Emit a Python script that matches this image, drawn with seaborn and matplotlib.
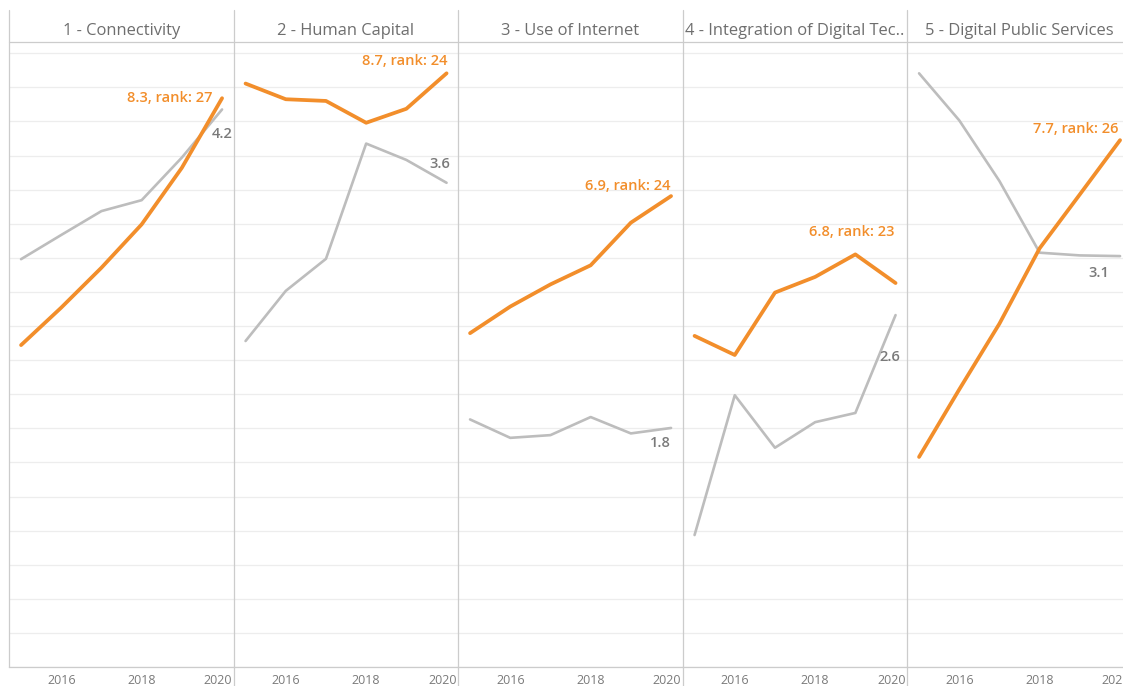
import matplotlib
matplotlib.use("Agg")
import numpy as np
import pandas as pd
import seaborn as sns
import matplotlib.pyplot as plt
from matplotlib.lines import Line2D
import matplotlib.transforms as mtransforms

# ---------------- data ----------------
years = [2015, 2016, 2017, 2018, 2019, 2020]
pillars = ["1 - Connectivity", "2 - Human Capital", "3 - Use of Internet",
           "4 - Integration of Digital Tec..", "5 - Digital Public Services"]

# position on the (hidden) vertical scale
connectivity_main = [9.44, 10.54, 11.71, 12.98, 14.64, 16.68]
connectivity_ref = [11.96, 12.67, 13.37, 13.69, 14.94, 16.35]
human_capital_main = [17.11, 16.65, 16.60, 15.96, 16.37, 17.41]
human_capital_ref = [9.56, 11.03, 11.97, 15.35, 14.87, 14.20]
internet_main = [9.79, 10.57, 11.22, 11.78, 13.03, 13.81]
internet_ref = [7.26, 6.72, 6.80, 7.33, 6.85, 7.01]
integration_main = [9.71, 9.15, 10.98, 11.44, 12.10, 11.26]
integration_ref = [3.87, 7.97, 6.43, 7.18, 7.45, 10.32]
public_services_main = [6.16, 8.14, 10.07, 12.28, 13.86, 15.45]
public_services_ref = [17.41, 16.03, 14.25, 12.15, 12.07, 12.05]

main_labels = ["8.3, rank: 27", "8.7, rank: 24", "6.9, rank: 24", "6.8, rank: 23", "7.7, rank: 26"]
ref_labels = ["4.2", "3.6", "1.8", "2.6", "3.1"]
tick_years = [2016, 2018, 2020]

main_series = [connectivity_main, human_capital_main, internet_main, integration_main, public_services_main]
ref_series = [connectivity_ref, human_capital_ref, internet_ref, integration_ref, public_services_ref]

rows = []
for p, m, r in zip(pillars, main_series, ref_series):
    for y, a, b in zip(years, m, r):
        rows.append((p, y, "main", a))
        rows.append((p, y, "ref", b))
df = pd.DataFrame(rows, columns=["pillar", "year", "series", "value"])

# ---------------- style ----------------
sns.set_theme(style="white")
plt.rcParams["font.family"] = ["Open Sans", "DejaVu Sans"]

ORANGE = "#F28E2B"
GRAY_LINE = "#BDBDBD"
GRAY_TEXT = "#7A7A7A"
TITLE_TEXT = "#6E6E6E"
DIV = "#CCCCCC"
GRID = "#EDEDED"

W, H = 1123, 686
fig = plt.figure(figsize=(W / 100, H / 100), dpi=100)
fig.patch.set_facecolor("white")

top_px, bottom_px = 42, 667
panel_w = 224.5
left0 = 9

# label offsets in pixels (dx, dy, ha) relative to the 2020 point
main_off = [(-10, 0, "right"), (1, 12, "right"), (-1, 10, "right"), (-1, 51, "right"), (-2, 11, "right")]
ref_off = [(0, -25, "center"), (4, 19, "right"), (0, -15, "right"), (5, -42, "right"), (-11, -17, "right")]

for i, p in enumerate(pillars):
    left = (left0 + panel_w * i) / W
    ax = fig.add_axes([left, (H - bottom_px) / H, panel_w / W, (bottom_px - top_px) / H])
    sub = df[df["pillar"] == p]
    sns.lineplot(data=sub[sub["series"] == "ref"], x="year", y="value", color=GRAY_LINE,
                 linewidth=1.9, ax=ax, legend=False)
    sns.lineplot(data=sub[sub["series"] == "main"], x="year", y="value", color=ORANGE,
                 linewidth=2.7, ax=ax, legend=False)
    for ln in ax.lines:
        ln.set_solid_capstyle("round")
        ln.set_solid_joinstyle("round")
    ax.set_xlim(2014.70, 2014.70 + panel_w / 40.2)
    ax.set_ylim(0, (bottom_px - top_px) / 34.1)
    ax.set_yticks(np.arange(0, 19, 1))
    ax.set_yticklabels([])
    ax.tick_params(axis="y", length=0)
    ax.grid(axis="y", color=GRID, linewidth=0.9)
    ax.grid(axis="x", visible=False)
    ax.set_xticks(tick_years)
    ax.set_xticklabels([str(t) for t in tick_years])
    ax.tick_params(axis="x", length=0, pad=5, labelsize=9, labelcolor=GRAY_TEXT)
    last = ax.get_xticklabels()[-1]
    last.set_transform(last.get_transform() + mtransforms.ScaledTranslation(-4 / 100, 0, fig.dpi_scale_trans))
    for s in ["top", "right", "left"]:
        ax.spines[s].set_visible(False)
    ax.spines["bottom"].set_color(DIV)
    ax.spines["bottom"].set_linewidth(0.9)
    ax.set_xlabel("")
    ax.set_ylabel("")
    ax.set_facecolor("white")

    # title in header
    ax.annotate(p, xy=(0.5, 1), xycoords="axes fraction", xytext=(0, 11),
                textcoords="offset pixels", ha="center", va="center",
                fontsize=11.9, color=TITLE_TEXT, annotation_clip=False)

    # end labels
    mx, my = years[-1], main_series[i][-1]
    dx, dy, ha = main_off[i]
    ax.annotate(main_labels[i], xy=(mx, my), xytext=(dx, dy), textcoords="offset pixels",
                ha=ha, va="center", fontsize=10.5, color=ORANGE, fontweight="semibold",
                annotation_clip=False)
    rx, ry = years[-1], ref_series[i][-1]
    dx, dy, ha = ref_off[i]
    ax.annotate(ref_labels[i], xy=(rx, ry), xytext=(dx, dy), textcoords="offset pixels",
                ha=ha, va="center", fontsize=10.5, color=GRAY_TEXT, fontweight="semibold",
                annotation_clip=False)

# header line and dividers
fig.add_artist(Line2D([left0 / W, 1], [1 - top_px / H] * 2, transform=fig.transFigure,
                      color=DIV, linewidth=0.9))
fig.add_artist(Line2D([left0 / W] * 2, [1 - 10 / H, 1 - bottom_px / H], transform=fig.transFigure,
                      color=DIV, linewidth=0.9))
for i in range(1, 5):
    x = (left0 + panel_w * i) / W
    fig.add_artist(Line2D([x, x], [1 - 10 / H, 0], transform=fig.transFigure,
                          color=DIV, linewidth=0.9))

fig.savefig("out.png", dpi=100, facecolor="white")
